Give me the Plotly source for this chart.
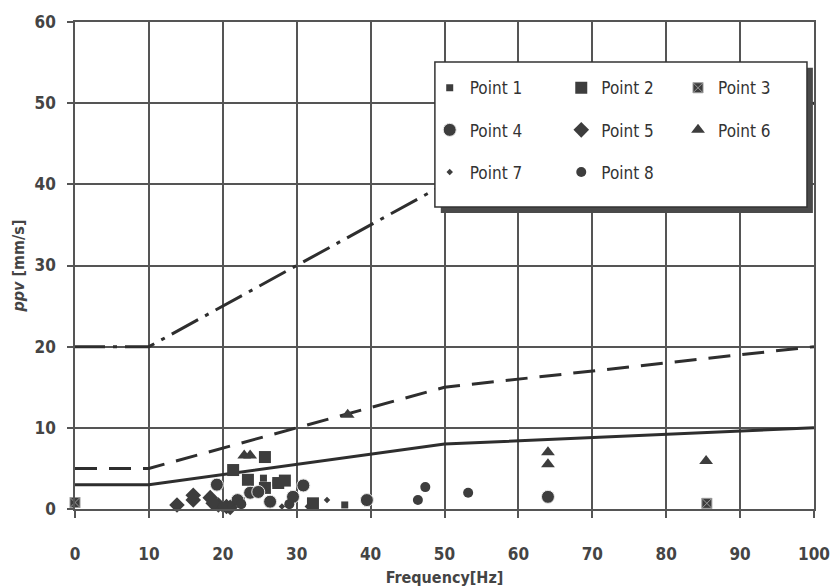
import plotly.graph_objects as go

# ---- data ----
limit_freq = [0, 10, 50, 100]
limit_line1 = [20, 20, 40, 50]   # dash-dot
limit_line2 = [5, 5, 15, 20]     # dashed
limit_line3 = [3, 3, 8, 10]      # solid

p1_f = [22.5, 25.5, 27.2, 36.5]
p1_v = [1.0, 3.8, 3.2, 0.5]
p2_f = [21.4, 25.7, 23.4, 28.4, 25.7, 32.2, 27.5]
p2_v = [4.8, 6.4, 3.6, 3.5, 2.6, 0.7, 3.2]
p3_f = [0.0, 85.5, 20.5]
p3_v = [0.8, 0.7, 0.3]
p4_f = [19.2, 22.0, 23.7, 24.8, 30.9, 29.5, 26.4, 39.5, 64.0]
p4_v = [3.0, 1.1, 2.0, 2.1, 2.9, 1.5, 0.9, 1.1, 1.5]
p5_f = [13.8, 16.0, 16.0, 18.3, 19.4, 18.7, 20.5, 21.0]
p5_v = [0.5, 1.1, 1.7, 1.4, 0.5, 0.7, 0.3, 0.2]
p6_f = [22.9, 23.7, 36.9, 64.0, 64.0, 85.4]
p6_v = [6.6, 6.6, 11.6, 7.0, 5.5, 5.9]
p7_f = [34.1, 31.5, 21.5, 28.0]
p7_v = [1.1, 0.3, 0.2, 0.3]
p8_f = [46.4, 47.4, 53.2, 20.0, 22.5, 29.0]
p8_v = [1.1, 2.7, 2.0, 0.3, 0.6, 0.6]

x_ticks = [0, 10, 20, 30, 40, 50, 60, 70, 80, 90, 100]
y_ticks = [0, 10, 20, 30, 40, 50, 60]

MC = "#3d3d3d"
LC = "#2e2e2e"
GRID = "#555555"
NARROW = "DejaVu Sans Condensed, Liberation Sans Narrow, Arial Narrow, sans-serif"

fig = go.Figure()

fig.add_trace(go.Scatter(x=limit_freq, y=limit_line1, mode="lines",
                         line=dict(color=LC, width=3, dash="30px,8px,4px,8px"),
                         showlegend=False, hoverinfo="skip"))
fig.add_trace(go.Scatter(x=limit_freq, y=limit_line2, mode="lines",
                         line=dict(color=LC, width=3, dash="22px,12px"),
                         showlegend=False, hoverinfo="skip"))
fig.add_trace(go.Scatter(x=limit_freq, y=limit_line3, mode="lines",
                         line=dict(color=LC, width=3),
                         showlegend=False, hoverinfo="skip"))

series = [
    ("Point 1", p1_f, p1_v, "square", 7, "legend", None),
    ("Point 2", p2_f, p2_v, "square", 12, "legend2", None),
    ("Point 3", p3_f, p3_v, "square-x", 10, "legend3", dict(color="#9a9a9a", width=1)),
    ("Point 4", p4_f, p4_v, "circle", 13, "legend", dict(color="#e8e8e8", width=1)),
    ("Point 5", p5_f, p5_v, "diamond", 12, "legend2", None),
    ("Point 6", p6_f, p6_v, "triangle-up", 12, "legend3", None),
    ("Point 7", p7_f, p7_v, "diamond", 5, "legend", None),
    ("Point 8", p8_f, p8_v, "circle", 10, "legend2", None),
]
for i, (name, fx, fy, sym, sz, lg, ln) in enumerate(series):
    mk = dict(symbol=sym, size=sz, color=MC)
    mk["line"] = ln if ln else dict(width=0)
    fig.add_trace(go.Scatter(x=fx, y=fy, mode="markers", name=name, marker=mk,
                             legend=lg, legendgroup=name, cliponaxis=False))

leg_common = dict(bgcolor="rgba(0,0,0,0)", borderwidth=0, orientation="v",
                  font=dict(family=NARROW, size=17, color="#333333"),
                  tracegroupgap=17, xanchor="left", yanchor="top", itemwidth=30)
fig.update_layout(
    legend=dict(x=0.480, y=0.901, **leg_common),
    legend2=dict(x=0.658, y=0.901, **leg_common),
    legend3=dict(x=0.816, y=0.901, **leg_common),
)

# legend box with shadow
bx0, bx1, by0, by1 = 0.487, 0.9905, 0.620, 0.918
fig.add_shape(type="rect", xref="paper", yref="paper", layer="above",
              x0=bx0 + 0.008, x1=bx1 + 0.008, y0=by0 - 0.012, y1=by1 - 0.012,
              fillcolor="#4a4a4a", line=dict(width=0))
fig.add_shape(type="rect", xref="paper", yref="paper", layer="above",
              x0=bx0, x1=bx1, y0=by0, y1=by1,
              fillcolor="white", line=dict(color="#333333", width=1.5))

fig.update_xaxes(range=[0, 100], tickvals=x_ticks, ticktext=[str(t) for t in x_ticks],
                 showgrid=True, gridcolor=GRID, gridwidth=1.5, automargin=False,
                 showline=True, linecolor=GRID, linewidth=1.5, mirror=True,
                 ticks="outside", ticklen=7, tickcolor=GRID, tickwidth=1.5,
                 zeroline=False, ticklabelstandoff=22,
                 tickfont=dict(family=NARROW, size=17, color="#444444", weight="bold"),
                 title=dict(text="Frequency[Hz]", standoff=12,
                            font=dict(family=NARROW, size=16, color="#444444", weight="bold")))
fig.update_yaxes(range=[0, 60], tickvals=y_ticks, ticktext=[str(t) for t in y_ticks],
                 showgrid=True, gridcolor=GRID, gridwidth=1.5, automargin=False,
                 showline=True, linecolor=GRID, linewidth=1.5, mirror=True,
                 ticks="outside", ticklen=6, tickcolor=GRID, tickwidth=1.5,
                 zeroline=False, ticklabelstandoff=8,
                 tickfont=dict(family=NARROW, size=17, color="#444444", weight="bold"),
                 title=dict(text="<i>ppv</i> [mm/s]", standoff=6,
                            font=dict(family=NARROW, size=16, color="#444444", weight="bold")))

fig.update_layout(width=837, height=587, margin=dict(l=75, r=23, t=22, b=78),
                  plot_bgcolor="white", paper_bgcolor="white", showlegend=True)

fig.write_html("out.html", config={"displayModeBar": False},
               post_script="document.body.style.margin='0';document.body.style.padding='0';")
